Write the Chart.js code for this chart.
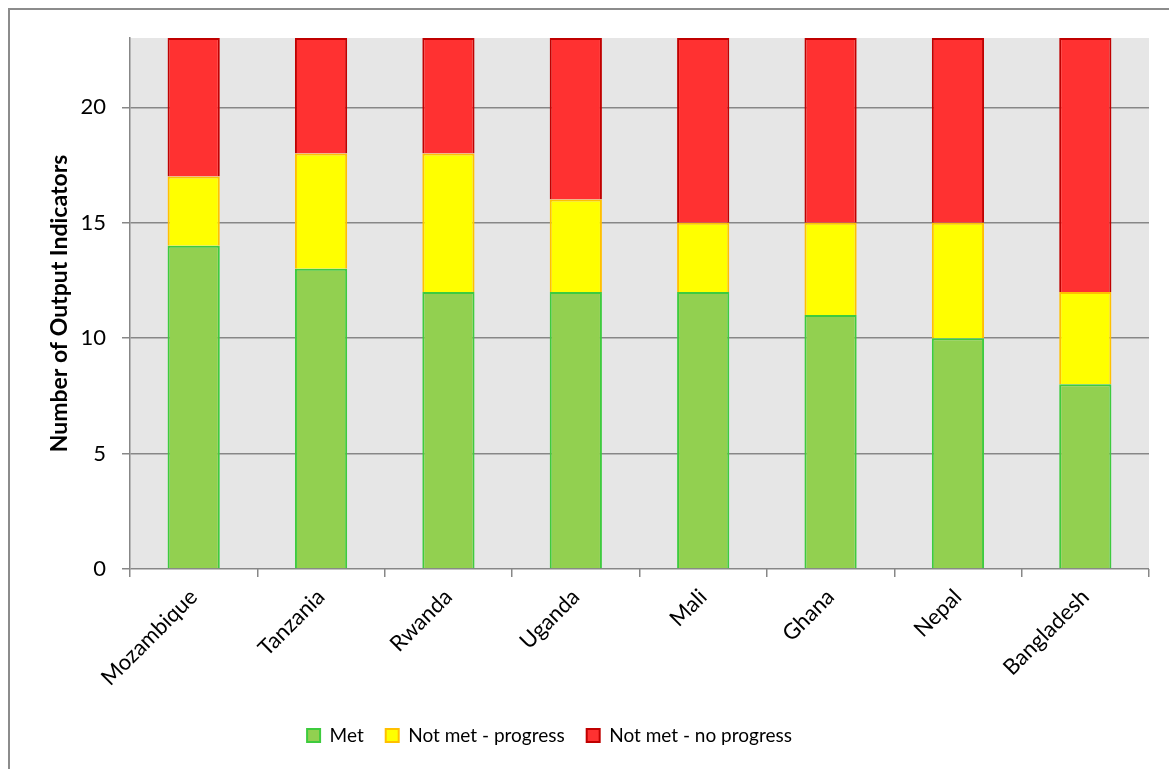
<!DOCTYPE html>
<html>
<head>
<meta charset="utf-8">
<script src="https://cdn.jsdelivr.net/npm/chart.js@4"></script>
<style>
  html, body { margin:0; padding:0; background:#fff; }
  #wrap { position:relative; width:1169px; height:769px; }
</style>
</head>
<body>
<div id="wrap"><canvas id="chart" width="1169" height="769"></canvas></div>
<script>
// countries and counts of output indicators per status
const countries = ["Mozambique","Tanzania","Rwanda","Uganda","Mali","Ghana","Nepal","Bangladesh"];
const met        = [14, 13, 12, 12, 12, 11, 10, 8];
const progress   = [3, 5, 6, 4, 3, 4, 5, 4];
const noProgress = [6, 5, 5, 7, 8, 8, 8, 11];
const yTicks = [0, 5, 10, 15, 20];

const FONT = "Lato, 'Open Sans', sans-serif";

// grey plot background + outer frame
const frame = {
  id: "frame",
  beforeDraw(chart){
    const {ctx, chartArea:a} = chart;
    ctx.save();
    ctx.fillStyle = "#e6e6e6";
    ctx.fillRect(a.left, a.top, a.right-a.left, a.bottom-a.top);
    ctx.strokeStyle = "#8c8c8c";
    ctx.lineWidth = 2;
    ctx.strokeRect(9, 9, 1300, 900);
    ctx.restore();
  },
  // legend in the original sits a bit left of the page centre
  afterLayout(chart){
    if(chart.legend){ chart.legend.left -= 25; chart.legend.right -= 25; }
  }
};

new Chart(document.getElementById("chart"), {
  type: "bar",
  data: {
    labels: countries,
    datasets: [
      { label:"Met", data:met, backgroundColor:"#92d050", borderColor:"#3ecb3e", borderWidth:2 },
      { label:"Not met - progress", data:progress, backgroundColor:"#ffff00", borderColor:"#ffc000", borderWidth:2 },
      { label:"Not met - no progress", data:noProgress, backgroundColor:"#ff3131", borderColor:"#c00000", borderWidth:2 },
    ],
  },
  options: {
    responsive:false,
    animation:false,
    datasets:{ bar:{ categoryPercentage:1, barPercentage:0.41 } },
    layout:{ padding:{ left:0, right:20, top:38, bottom:14 } },
    plugins:{
      tooltip:{ enabled:false },
      legend:{
        position:"bottom",
        labels:{ color:"#000", font:{ family:FONT, size:19 }, boxWidth:13, boxHeight:13, padding:22 },
      },
    },
    scales:{
      x:{
        stacked:true,
        grid:{ offset:true, drawOnChartArea:false, drawTicks:true, tickLength:8, color:"#878787", lineWidth:1.5 },
        border:{ display:false },
        ticks:{ color:"#000", font:{ family:FONT, size:22 }, minRotation:45, maxRotation:45, padding:7 },
        afterFit(s){ s.height = 135; },
      },
      y:{
        stacked:true,
        min:0, max:23,
        afterBuildTicks(s){ s.ticks = yTicks.map(v=>({value:v})); },
        grid:{ color:"#878787", lineWidth:1.5, tickLength:8 },
        border:{ color:"#878787", width:1.5 },
        ticks:{ color:"#000", font:{ family:FONT, size:22 }, padding:16 },
        title:{ display:true, text:"Number of Output Indicators", color:"#000", font:{ family:FONT, size:23, weight:"bold" }, padding:{ top:46, bottom:0 } },
        afterFit(s){ s.width = 130; },
      },
    },
  },
  plugins:[frame],
});
</script>
</body>
</html>
